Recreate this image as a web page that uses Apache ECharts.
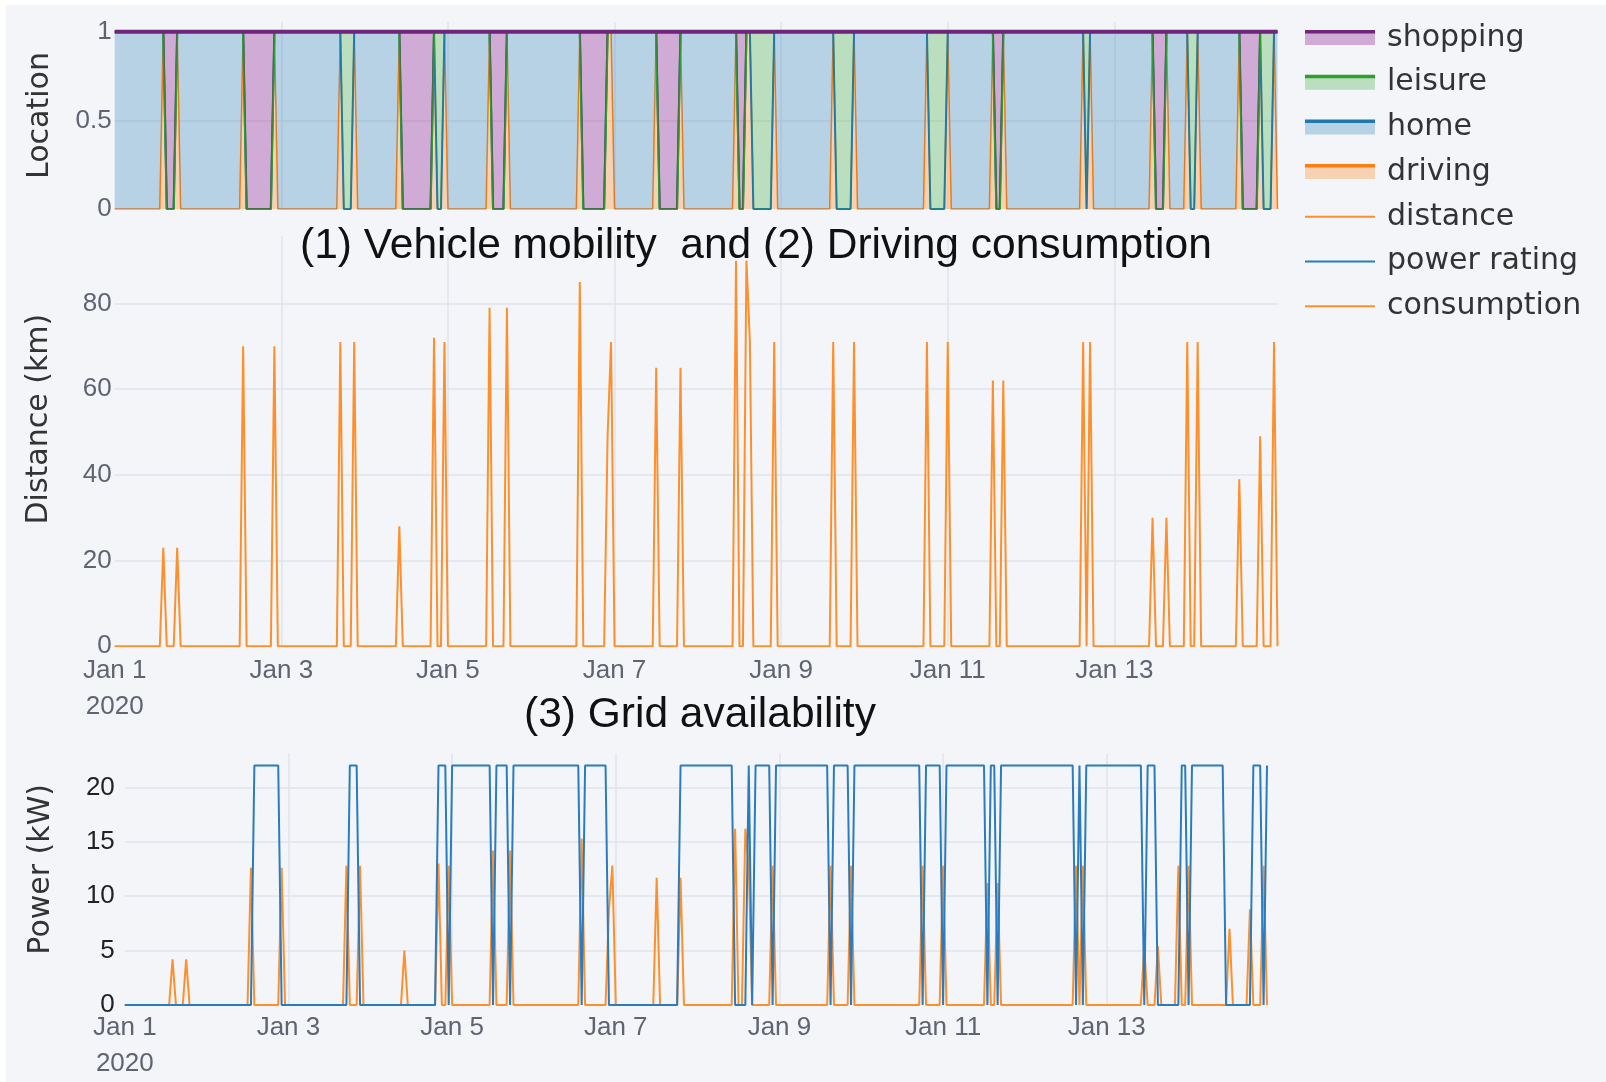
<!DOCTYPE html>
<html><head><meta charset="utf-8">
<script src="https://cdn.jsdelivr.net/npm/echarts@6/dist/echarts.min.js"></script>
<style>html,body{margin:0;padding:0;background:#fff}#c{width:1606px;height:1082px}</style>
</head><body><div id="c"></div>
<script>
// ---------- values (hours since 2020-01-01 00:00, hourly steps) ----------
const lastHour = 335;
const xTickHours = [0, 48, 96, 144, 192, 240, 288];
const xTickLabels = ['Jan 1\n2020', 'Jan 3', 'Jan 5', 'Jan 7', 'Jan 9', 'Jan 11', 'Jan 13'];
const locationTicks = [0, 0.5, 1];
const distanceTicks = [0, 20, 40, 60, 80];
const powerTicks = [0, 5, 10, 15, 20];

const tripHours = [14,18,37,46,65,69,82,92,95,108,113,134,142,143,156,163,179,182,183,190,207,213,234,240,253,256,279,281,299,303,309,312,324,330,334];
const tripDistanceKm = [23,23,70,70,71,71,28,72,71,79,79,85,49,71,65,65,90,90,71,71,71,71,71,71,62,62,71,71,30,30,71,71,39,49,71];
const tripConsumptionKw = [4.2,4.2,12.6,12.6,12.8,12.8,5.0,13.0,12.8,14.2,14.2,15.3,8.8,12.8,11.7,11.7,16.2,16.2,12.8,12.8,12.8,12.8,12.8,12.8,11.2,11.2,12.8,12.8,5.4,5.4,12.8,12.8,7.0,8.8,12.8];

const shoppingStays = [[15,17],[38,45],[83,91],[109,112],[135,141],[157,162],[180,181],[254,255],[300,302],[325,329]];
const leisureStays = [[66,68],[93,94],[184,189],[208,212],[235,239],[280,280],[310,311],[331,333]];
const gridOnPeriods = [[38,45],[66,68],[92,94],[96,107],[109,112],[114,133],[135,141],[163,178],[183,183],[185,189],[191,206],[208,212],[214,233],[235,239],[241,252],[254,255],[257,278],[280,280],[282,298],[300,302],[310,311],[313,322],[331,333],[335,335]];
const gridPowerKw = 22;

// ---------- build series tables from the values above ----------
const hours = [];
for (let h = 0; h <= lastHour; h++) hours.push(h);
const inPeriods = (h, list) => list.some(p => h >= p[0] && h <= p[1]);
const place = hours.map(h => tripHours.includes(h) ? 'driving'
  : inPeriods(h, shoppingStays) ? 'shopping'
  : inPeriods(h, leisureStays) ? 'leisure' : 'home');
const oneHot = name => hours.map((h, i) => place[i] === name ? 1 : 0);
const perTrip = vals => hours.map(h => { const k = tripHours.indexOf(h); return k < 0 ? 0 : vals[k]; });
const distanceData = perTrip(tripDistanceKm);
const consumptionData = perTrip(tripConsumptionKw);
const powerData = hours.map(h => inPeriods(h, gridOnPeriods) ? gridPowerKw : 0);

// ---------- styling ----------
const BG = '#f3f5f9';
const GRIDC = '#e0e3ea';
const lineC = { shopping: '#6f2579', leisure: '#2ca02c', home: '#1f77b4', driving: '#ff7f0e' };
const fillC = { shopping: 'rgba(128,0,128,0.30)', leisure: 'rgba(44,160,44,0.28)', home: 'rgba(31,119,180,0.28)', driving: 'rgba(255,127,14,0.30)' };
const tickFont = 'Liberation Sans, Arial, sans-serif';
const titleFont = 'DejaVu Sans, sans-serif';

const grids = [
  { left: 114.7, top: 22, width: 1162.8, height: 187 },
  { left: 114.7, top: 236, width: 1162.8, height: 410.3 },
  { left: 124.8, top: 753.6, width: 1142.2, height: 251.4 }
].map(g => Object.assign({ containLabel: false, outerBoundsMode: 'none' }, g));

const isTick = idx => xTickHours.indexOf(idx) >= 0;
const xAxes = [0, 1, 2].map(i => ({
  type: 'category', gridIndex: i, data: hours, boundaryGap: false,
  axisLine: { show: false }, axisTick: { show: false },
  splitLine: { show: true, interval: idx => idx > 0 && isTick(idx), lineStyle: { color: GRIDC, width: 1.5 } },
  axisLabel: {
    show: i > 0, interval: idx => isTick(idx),
    fontFamily: tickFont, fontSize: 26, color: '#5f6470', lineHeight: 36,
    margin: i === 1 ? 7 : 5,
    formatter: (v, idx) => { const k = xTickHours.indexOf(Number(v)); return k < 0 ? '' : xTickLabels[k]; }
  }
}));

function yAxis(i, max, interval, ticks, name, gap, shift, labColor, labMargin) {
  return {
    type: 'value', gridIndex: i, min: 0, max: max, interval: interval,
    axisLine: { show: false }, axisTick: { show: false },
    splitLine: { show: true, showMinLine: false, showMaxLine: false, lineStyle: { color: GRIDC, width: 1.5 } },
    axisLabel: {
      fontFamily: tickFont, fontSize: 26, color: labColor, margin: labMargin,
      formatter: v => ticks.some(t => Math.abs(t - v) < 1e-9) ? String(v) : ''
    },
    name: name, nameLocation: 'middle', nameGap: gap, nameRotate: 90,
    nameTextStyle: { fontFamily: titleFont, fontSize: 30, color: '#333', lineHeight: 30, padding: [0, 0, 0, shift] }
  };
}
const yAxes = [
  yAxis(0, 1.055, 0.5, locationTicks, 'Location', 59, 0, '#5f6470', 3),
  yAxis(1, 95.75, 20, distanceTicks, 'Distance (km)', 60, 44, '#5f6470', 3),
  yAxis(2, 23.1, 5, powerTicks, 'Power (kW)', 69, 20, '#222', 10)
];

function locSeries(name, width, z) {
  return {
    name: name, type: 'line', xAxisIndex: 0, yAxisIndex: 0, stack: 'loc',
    data: oneHot(name), symbol: 'none', showSymbol: false, z: z,
    lineStyle: { color: lineC[name], width: width }, itemStyle: { color: lineC[name] },
    areaStyle: { color: fillC[name], opacity: 1 }
  };
}

const series = [
  locSeries('driving', 1.5, 2),
  locSeries('home', 2, 3),
  locSeries('leisure', 2.2, 4),
  locSeries('shopping', 3.8, 5),
  { name: 'distance', type: 'line', xAxisIndex: 1, yAxisIndex: 1, data: distanceData, symbol: 'none',
    lineStyle: { color: '#ff8f2a', width: 2 }, itemStyle: { color: '#ff8f2a' } },
  { name: 'consumption', type: 'line', xAxisIndex: 2, yAxisIndex: 2, data: consumptionData, symbol: 'none',
    lineStyle: { color: '#ff8f2a', width: 2 }, itemStyle: { color: '#ff8f2a' }, z: 2 },
  { name: 'power rating', type: 'line', xAxisIndex: 2, yAxisIndex: 2, data: powerData, symbol: 'none',
    lineStyle: { color: '#2b7bbf', width: 2 }, itemStyle: { color: '#2b7bbf' }, z: 3 }
];

const areaNames = ['shopping', 'leisure', 'home', 'driving'];
const lineIconColor = { 'distance': '#ff8f2a', 'power rating': '#2b7bbf', 'consumption': '#ff8f2a' };
const legendData = areaNames.map(n => ({ name: n, icon: 'rect', itemStyle: { color: fillC[n], borderWidth: 0 } }))
  .concat(['distance', 'power rating', 'consumption'].map(n => ({
    name: n, icon: 'path://M0,0H70V2H0Z', itemStyle: { color: lineIconColor[n], borderWidth: 0 }
  })));

const legTop = 23, legGap = 14.7, legH = 14, legStep = 30 + legGap;
const graphics = [
  { type: 'rect', silent: true, z: 100, shape: { x: 0, y: 0, width: 1606, height: 5 }, style: { fill: '#ffffff' } },
  { type: 'rect', silent: true, z: 100, shape: { x: 0, y: 0, width: 6, height: 1082 }, style: { fill: '#ffffff' } }
].concat(areaNames.map((n, i) => ({
  type: 'rect', silent: true, z: 50,
  shape: { x: 1305, y: legTop + 8 + i * legStep - 1, width: 70, height: 3.5 },
  style: { fill: lineC[n] }
})));

const option = {
  animation: false,
  backgroundColor: BG,
  title: [
    { text: '(1) Vehicle mobility  and (2) Driving consumption', left: 300, top: 222, padding: 0,
      textStyle: { fontFamily: tickFont, fontSize: 42.5, fontWeight: 'normal', color: '#111', lineHeight: 48 } },
    { text: '(3) Grid availability', left: 524, top: 691, padding: 0,
      textStyle: { fontFamily: tickFont, fontSize: 42.5, fontWeight: 'normal', color: '#111', lineHeight: 48 } }
  ],
  legend: {
    orient: 'vertical', left: 1305, top: legTop, padding: 0, itemWidth: 70, itemHeight: legH, itemGap: legGap,
    symbolKeepAspect: true,
    textStyle: { fontFamily: titleFont, fontSize: 30, color: '#333', lineHeight: 30, padding: [0, 0, 0, 7] },
    data: legendData
  },
  grid: grids,
  xAxis: xAxes,
  yAxis: yAxes,
  series: series,
  graphic: graphics
};

const chart = echarts.init(document.getElementById('c'), null, { renderer: 'canvas', width: 1606, height: 1082 });
chart.setOption(option);
</script>
</body></html>
